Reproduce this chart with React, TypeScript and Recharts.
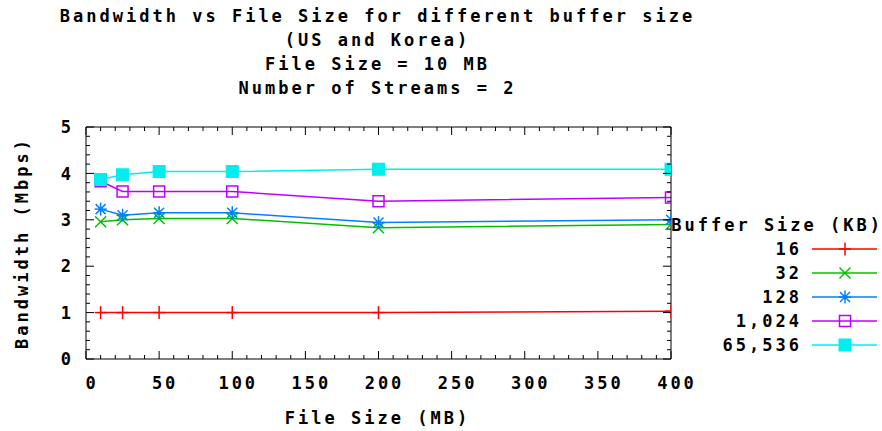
import React from 'react';
import { LineChart, Line, XAxis, YAxis, Legend, Label } from 'recharts';

// ---- data ----
const fileSizes = [10, 25, 50, 100, 200, 400];
const bw16 = [1.0, 1.0, 1.0, 1.0, 1.0, 1.03];
const bw32 = [2.96, 3.0, 3.03, 3.03, 2.83, 2.9];
const bw128 = [3.23, 3.1, 3.15, 3.15, 2.94, 3.0];
const bw1024 = [3.83, 3.61, 3.61, 3.61, 3.4, 3.48];
const bw65536 = [3.87, 3.97, 4.04, 4.04, 4.09, 4.09];

const bufferSizeLabels = ['16', '32', '128', '1,024', '65,536'];
const xTicks = [0, 10, 20, 30, 40, 50, 60, 70, 80, 90, 100, 110, 120, 130, 140, 150, 160, 170, 180, 190, 200, 210, 220, 230, 240, 250, 260, 270, 280, 290, 300, 310, 320, 330, 340, 350, 360, 370, 380, 390, 400];
const xMajorTicks = [0, 50, 100, 150, 200, 250, 300, 350, 400];
const yTicks = [0, 0.2, 0.4, 0.6, 0.8, 1, 1.2, 1.4, 1.6, 1.8, 2, 2.2, 2.4, 2.6, 2.8, 3, 3.2, 3.4, 3.6, 3.8, 4, 4.2, 4.4, 4.6, 4.8, 5];
const yMajorTicks = [0, 1, 2, 3, 4, 5];

const titleLines = [
  'Bandwidth vs File Size for different buffer size',
  '(US and Korea)',
  'File Size = 10 MB',
  'Number of Streams = 2',
];

const seriesDefs = [
  { key: 's16', values: bw16, name: bufferSizeLabels[0], color: '#ff0000', shape: 'plus' },
  { key: 's32', values: bw32, name: bufferSizeLabels[1], color: '#00c000', shape: 'cross' },
  { key: 's128', values: bw128, name: bufferSizeLabels[2], color: '#0080ff', shape: 'star' },
  { key: 's1024', values: bw1024, name: bufferSizeLabels[3], color: '#c000ff', shape: 'box' },
  { key: 's65536', values: bw65536, name: bufferSizeLabels[4], color: '#00eeee', shape: 'fbox' },
];

const tableData = fileSizes.map((x, i) => {
  const row: any = { x };
  seriesDefs.forEach((s) => {
    row[s.key] = s.values[i];
  });
  return row;
});

// ---- styling ----
const FONT = "'DejaVu Sans Mono', 'Liberation Mono', monospace";
const textStyle: React.CSSProperties = {
  fontFamily: FONT,
  fontWeight: 700,
  fontSize: 17,
  letterSpacing: 3,
};

function Marker({ shape, cx, cy, color }: { shape: string; cx: number; cy: number; color: string }) {
  const sw = 1.5;
  if (shape === 'plus') {
    return (
      <g stroke={color} strokeWidth={sw}>
        <line x1={cx - 6} x2={cx + 6} y1={cy} y2={cy} />
        <line x1={cx} x2={cx} y1={cy - 6.5} y2={cy + 6.5} />
      </g>
    );
  }
  if (shape === 'cross') {
    return (
      <g stroke={color} strokeWidth={sw}>
        <line x1={cx - 5.5} x2={cx + 5.5} y1={cy - 5.5} y2={cy + 5.5} />
        <line x1={cx - 5.5} x2={cx + 5.5} y1={cy + 5.5} y2={cy - 5.5} />
      </g>
    );
  }
  if (shape === 'star') {
    return (
      <g stroke={color} strokeWidth={sw}>
        <line x1={cx - 6} x2={cx + 6} y1={cy} y2={cy} />
        <line x1={cx} x2={cx} y1={cy - 6.5} y2={cy + 6.5} />
        <line x1={cx - 5} x2={cx + 5} y1={cy - 5} y2={cy + 5} />
        <line x1={cx - 5} x2={cx + 5} y1={cy + 5} y2={cy - 5} />
        <circle cx={cx} cy={cy} r={2.2} fill={color} stroke="none" />
      </g>
    );
  }
  if (shape === 'box') {
    return <rect x={cx - 5.5} y={cy - 5.5} width={11} height={11} fill="none" stroke={color} strokeWidth={sw} />;
  }
  return <rect x={cx - 6} y={cy - 6} width={12} height={12} fill={color} stroke={color} strokeWidth={1} />;
}

const BottomTick = (props: any) => {
  const { x, y, payload } = props;
  const v = payload.value;
  const major = xMajorTicks.includes(v);
  return (
    <g>
      <line x1={x} x2={x} y1={y} y2={y - (major ? 8 : 4)} stroke="#000" strokeWidth={1} />
      {major && (
        <text x={x + 6} y={y + 24} dy="0.36em" textAnchor="middle" fill="#000" style={textStyle}>
          {v}
        </text>
      )}
    </g>
  );
};

const TopTick = (props: any) => {
  const { x, y, payload } = props;
  const major = xMajorTicks.includes(payload.value);
  return <line x1={x} x2={x} y1={y} y2={y + (major ? 8 : 4)} stroke="#000" strokeWidth={1} />;
};

const LeftTick = (props: any) => {
  const { x, y, payload } = props;
  const v = payload.value;
  const major = yMajorTicks.includes(v);
  return (
    <g>
      <line x1={x} x2={x + (major ? 8 : 4)} y1={y} y2={y} stroke="#000" strokeWidth={1} />
      {major && (
        <text x={x - 12} y={y} dy="0.36em" textAnchor="end" fill="#000" style={textStyle}>
          {v}
        </text>
      )}
    </g>
  );
};

const RightTick = (props: any) => {
  const { x, y, payload } = props;
  const major = yMajorTicks.includes(payload.value);
  return <line x1={x} x2={x - (major ? 8 : 4)} y1={y} y2={y} stroke="#000" strokeWidth={1} />;
};

const LegendContent = () => (
  <svg width={222} height={150} style={{ overflow: 'visible', display: 'block' }}>
    <text x={223} y={15} dy="0.36em" textAnchor="end" fill="#000" style={textStyle}>
      Buffer Size (KB)
    </text>
    {seriesDefs.map((s, i) => {
      const cy = 39 + i * 24;
      return (
        <g key={s.key}>
          <text x={142} y={cy} dy="0.36em" textAnchor="end" fill="#000" style={textStyle}>
            {s.name}
          </text>
          <line x1={152} x2={217} y1={cy} y2={cy} stroke={s.color} strokeWidth={1.5} />
          <Marker shape={s.shape} cx={185} cy={cy} color={s.color} />
        </g>
      );
    })}
  </svg>
);

export default function App() {
  return (
    <div style={{ position: 'absolute', left: 0, top: 0, width: 882, height: 431, background: '#fff' }}>
      <div
        style={{
          position: 'absolute',
          left: 0,
          top: 0,
          width: 755,
          paddingTop: 4,
          textAlign: 'center',
          fontFamily: FONT,
          fontWeight: 700,
          fontSize: 17,
          letterSpacing: 3,
          lineHeight: '24px',
          color: '#000',
          whiteSpace: 'pre',
        }}
      >
        {titleLines.map((t) => (
          <div key={t}>{t}</div>
        ))}
      </div>
      <LineChart
        width={882}
        height={431}
        data={tableData}
        margin={{ top: 126, right: 210, bottom: 0, left: 0 }}
        style={{ position: 'absolute', left: 0, top: 0 }}
      >
        <XAxis
          xAxisId="bottom"
          dataKey="x"
          type="number"
          domain={[0, 400]}
          ticks={xTicks}
          interval={0}
          height={72}
          tickSize={0}
          tickMargin={0}
          tickLine={false}
          tick={BottomTick}
          axisLine={{ stroke: '#000', strokeWidth: 1 }}
          allowDataOverflow
        >
          <Label
            content={(p: any) => {
              const vb = p.viewBox || { x: 86, y: 359, width: 585, height: 72 };
              return (
                <text x={vb.x + vb.width / 2 - 1} y={vb.y + 59} dy="0.36em" textAnchor="middle" fill="#000" style={textStyle}>
                  File Size (MB)
                </text>
              );
            }}
          />
        </XAxis>
        <XAxis
          xAxisId="top"
          orientation="top"
          dataKey="x"
          type="number"
          domain={[0, 400]}
          ticks={xTicks}
          interval={0}
          height={1}
          tickSize={0}
          tickMargin={0}
          tickLine={false}
          tick={TopTick}
          axisLine={{ stroke: '#000', strokeWidth: 1 }}
          allowDataOverflow
        />
        <YAxis
          yAxisId="left"
          type="number"
          domain={[0, 5]}
          ticks={yTicks}
          interval={0}
          width={86}
          tickSize={0}
          tickMargin={0}
          tickLine={false}
          tick={LeftTick}
          axisLine={{ stroke: '#000', strokeWidth: 1 }}
          allowDataOverflow
        >
          <Label
            content={(p: any) => {
              const vb = p.viewBox || { x: 0, y: 127, width: 86, height: 232 };
              const cx = 22;
              const cy = vb.y + vb.height / 2;
              return (
                <text
                  x={cx}
                  y={cy}
                  dy="0.36em"
                  textAnchor="middle"
                  transform={`rotate(-90, ${cx}, ${cy})`}
                  fill="#000"
                  style={textStyle}
                >
                  Bandwidth (Mbps)
                </text>
              );
            }}
          />
        </YAxis>
        <YAxis
          yAxisId="right"
          orientation="right"
          type="number"
          domain={[0, 5]}
          ticks={yTicks}
          interval={0}
          width={1}
          tickSize={0}
          tickMargin={0}
          tickLine={false}
          tick={RightTick}
          axisLine={{ stroke: '#000', strokeWidth: 1 }}
          allowDataOverflow
        />
        <Legend
          layout="vertical"
          align="center"
          verticalAlign="middle"
          content={LegendContent}
          wrapperStyle={{ position: 'absolute', left: 660, top: 210, width: 222, height: 150 }}
        />
        {seriesDefs.map((s) => (
          <Line
            key={s.key}
            xAxisId="bottom"
            yAxisId="left"
            type="linear"
            dataKey={s.key}
            name={s.name}
            stroke={s.color}
            strokeWidth={1.5}
            isAnimationActive={false}
            activeDot={false}
            dot={(p: any) => (
              <Marker key={`${s.key}-${p.index}`} shape={s.shape} cx={p.cx} cy={p.cy} color={s.color} />
            )}
          />
        ))}
      </LineChart>
    </div>
  );
}
